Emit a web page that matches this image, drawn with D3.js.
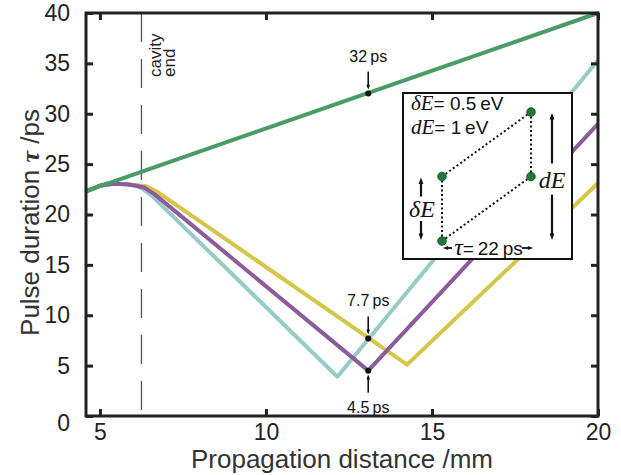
<!DOCTYPE html>
<html>
<head>
<meta charset="utf-8">
<script src="https://cdn.jsdelivr.net/npm/d3@7"></script>
<style>
  html, body { margin: 0; padding: 0; background: #fff; }
  svg { display: block; font-family: "Liberation Sans", Arial, sans-serif; }
</style>
</head>
<body>
<svg id="chart" width="621" height="475"></svg>
<script>
// datos
const xTicks = [5, 10, 15, 20];
const yTicks = [0, 5, 10, 15, 20, 25, 30, 35, 40];

const greenX = [4.58, 5.0, 5.25, 20];
const greenY = [22.3, 22.85, 23.1, 40];

const tealX = [4.58, 5.0, 5.4, 5.8, 6.1, 6.3, 6.55, 12.15, 20];
const tealY = [22.3, 22.85, 23.05, 23.0, 22.85, 22.5, 21.9, 3.9, 35.3];

const purpleX = [4.58, 5.0, 5.4, 5.8, 6.1, 6.35, 6.65, 13.08, 20];
const purpleY = [22.3, 22.85, 23.05, 23.0, 22.85, 22.65, 22.0, 4.5, 29.0];

const yellowX = [4.58, 5.0, 5.4, 5.8, 6.1, 6.4, 6.75, 14.25, 20];
const yellowY = [22.3, 22.85, 23.05, 23.0, 22.9, 22.8, 22.2, 5.1, 23.1];

const cavityEnd = 6.25;

const annX = [13.08, 13.08, 13.08];
const annY = [32, 7.7, 4.5];
const annLabels = ["32\u2009ps", "7.7\u2009ps", "4.5\u2009ps"];
const annBelow = [false, false, true];

// recuadro: tau en ps, energia en eV
const insetTau = [0, 0, 22, 22];
const insetE = [0, 0.5, 0.5, 1];

const svg = d3.select('#chart');

const x = d3.scaleLinear().domain([4.58, 20]).range([86, 598]);
const y = d3.scaleLinear().domain([0, 40]).range([416, 13]);

const axisColor = '#222';

// linea discontinua del final de la cavidad
svg.append('line')
  .attr('x1', x(cavityEnd)).attr('x2', x(cavityEnd))
  .attr('y1', y(40)).attr('y2', y(0))
  .attr('stroke', '#555').attr('stroke-width', 1.3)
  .attr('stroke-dasharray', '29,17');

svg.append('text')
  .attr('transform', `translate(${x(cavityEnd) + 20},77) rotate(-90)`)
  .attr('font-size', 17).attr('fill', '#222')
  .selectAll('tspan').data(['cavity', 'end']).enter().append('tspan')
  .attr('x', 0).attr('dy', (d, i) => i === 0 ? 0 : 14)
  .text(d => d);

const line = d3.line().x(d => x(d[0])).y(d => y(d[1]));

const series = [
  { xs: yellowX, ys: yellowY, color: '#d5c548' },
  { xs: tealX, ys: tealY, color: '#98cac7' },
  { xs: purpleX, ys: purpleY, color: '#8b5b9b' },
  { xs: greenX, ys: greenY, color: '#4a9c66' }
];

svg.selectAll('path.curve')
  .data(series).enter().append('path')
  .attr('class', 'curve')
  .attr('d', s => line(d3.zip(s.xs, s.ys)))
  .attr('fill', 'none')
  .attr('stroke', s => s.color)
  .attr('stroke-width', 4)
  .attr('stroke-linejoin', 'round');

// anotaciones
function arrowHead(g, px, py, dir, size) {
  // dir: 'up','down','left','right'
  const s = size || 4;
  let pts;
  if (dir === 'down') pts = [[px, py], [px - s * 0.6, py - s * 1.6], [px + s * 0.6, py - s * 1.6]];
  if (dir === 'up') pts = [[px, py], [px - s * 0.6, py + s * 1.6], [px + s * 0.6, py + s * 1.6]];
  if (dir === 'left') pts = [[px, py], [px + s * 1.6, py - s * 0.6], [px + s * 1.6, py + s * 0.6]];
  if (dir === 'right') pts = [[px, py], [px - s * 1.6, py - s * 0.6], [px - s * 1.6, py + s * 0.6]];
  g.append('polygon').attr('points', pts.map(p => p.join(',')).join(' ')).attr('fill', '#111');
}

const ann = svg.append('g');
annX.forEach((ax, i) => {
  const cx = x(ax), cy = y(annY[i]);
  const sgn = annBelow[i] ? 1 : -1;
  ann.append('line')
    .attr('x1', cx).attr('x2', cx)
    .attr('y1', cy + sgn * 22).attr('y2', cy + sgn * 6)
    .attr('stroke', '#111').attr('stroke-width', 1.6);
  arrowHead(ann, cx, cy + sgn * 4, annBelow[i] ? 'up' : 'down', 3);
  ann.append('circle').attr('cx', cx).attr('cy', cy).attr('r', 3).attr('fill', '#111');
  ann.append('text')
    .attr('x', cx).attr('y', annBelow[i] ? cy + 42 : cy - 32)
    .attr('text-anchor', 'middle').attr('font-size', 16).attr('fill', '#111')
    .text(annLabels[i]);
});

// recuadro interior
const inset = svg.append('g');
inset.append('rect')
  .attr('x', 403).attr('y', 93).attr('width', 169).attr('height', 166)
  .attr('fill', '#fff').attr('stroke', '#111').attr('stroke-width', 2);

const ix = d3.scaleLinear().domain([0, 22]).range([442, 531]);
const iy = d3.scaleLinear().domain([0, 1]).range([241, 112]);

const pts = d3.zip(insetTau, insetE);
const edges = [[0, 1], [1, 3], [3, 2], [2, 0]];
inset.selectAll('line.edge').data(edges).enter().append('line')
  .attr('x1', d => ix(pts[d[0]][0])).attr('y1', d => iy(pts[d[0]][1]))
  .attr('x2', d => ix(pts[d[1]][0])).attr('y2', d => iy(pts[d[1]][1]))
  .attr('stroke', '#111').attr('stroke-width', 2)
  .attr('stroke-dasharray', '2,2.5');

inset.selectAll('circle').data(pts).enter().append('circle')
  .attr('cx', d => ix(d[0])).attr('cy', d => iy(d[1]))
  .attr('r', 4.3).attr('fill', '#1f7a3a').attr('stroke', '#0d4a1f').attr('stroke-width', 0.8);

const mathFont = '"Liberation Serif", "DejaVu Serif", serif';

function eqText(px, py, sym, rest) {
  const t = inset.append('text').attr('x', px).attr('y', py).attr('fill', '#111');
  t.append('tspan').attr('font-family', mathFont).attr('font-style', 'italic').attr('font-size', 21).text(sym);
  t.append('tspan').attr('font-size', 19).text('= ' + rest);
}
eqText(411, 110, 'δE', '0.5\u2009eV');
eqText(411, 134, 'dE', '1\u2009eV');

// flecha dE
const dEx = ix(22) + 21;
inset.append('line').attr('x1', dEx).attr('x2', dEx).attr('y1', iy(1) + 6).attr('y2', iy(0.5) - 13)
  .attr('stroke', '#111').attr('stroke-width', 2.2);
inset.append('line').attr('x1', dEx).attr('x2', dEx).attr('y1', iy(0.5) + 18).attr('y2', iy(0) - 6)
  .attr('stroke', '#111').attr('stroke-width', 2.2);
arrowHead(inset, dEx, iy(1) + 1, 'up', 4);
arrowHead(inset, dEx, iy(0) - 1, 'down', 4);
inset.append('text').attr('x', dEx).attr('y', iy(0.5) + 11)
  .attr('text-anchor', 'middle').attr('font-family', mathFont).attr('font-style', 'italic')
  .attr('font-size', 24).attr('fill', '#111').text('dE');

// flecha deltaE
const sEx = ix(0) - 21;
inset.append('line').attr('x1', sEx).attr('x2', sEx).attr('y1', iy(0.5) + 6).attr('y2', iy(0.5) + 20)
  .attr('stroke', '#111').attr('stroke-width', 2.2);
inset.append('line').attr('x1', sEx).attr('x2', sEx).attr('y1', iy(0) - 20).attr('y2', iy(0) - 6)
  .attr('stroke', '#111').attr('stroke-width', 2.2);
arrowHead(inset, sEx, iy(0.5) + 1, 'up', 4);
arrowHead(inset, sEx, iy(0) - 1, 'down', 4);
inset.append('text').attr('x', sEx + 1).attr('y', iy(0.25) + 8)
  .attr('text-anchor', 'middle').attr('font-family', mathFont).attr('font-style', 'italic')
  .attr('font-size', 24).attr('fill', '#111').text('δE');

// flecha tau
const tauY = iy(0) + 7;
inset.append('line').attr('x1', ix(0) + 4).attr('x2', ix(0) + 10).attr('y1', tauY).attr('y2', tauY)
  .attr('stroke', '#111').attr('stroke-width', 1.8);
inset.append('line').attr('x1', ix(22) - 9).attr('x2', ix(22) - 1).attr('y1', tauY).attr('y2', tauY)
  .attr('stroke', '#111').attr('stroke-width', 1.8);
arrowHead(inset, ix(0) + 1, tauY, 'left', 3.2);
arrowHead(inset, ix(22) + 2, tauY, 'right', 3.2);
const tauText = inset.append('text').attr('x', (ix(0) + ix(22)) / 2 + 2).attr('y', tauY + 7)
  .attr('text-anchor', 'middle').attr('fill', '#111');
tauText.append('tspan').attr('font-family', mathFont).attr('font-style', 'italic').attr('font-size', 24).text('τ');
tauText.append('tspan').attr('font-size', 19).text('=\u200922\u2009ps');

// ejes y marco
const frame = svg.append('g');
frame.append('rect')
  .attr('x', x(4.58)).attr('y', y(40))
  .attr('width', x(20) - x(4.58)).attr('height', y(0) - y(40))
  .attr('fill', 'none').attr('stroke', axisColor).attr('stroke-width', 3);

frame.append('g').attr('transform', `translate(0,${y(0)})`)
  .call(d3.axisBottom(x).tickValues(xTicks).tickSizeInner(-7).tickSizeOuter(0).tickPadding(8))
  .call(g => g.select('.domain').remove());
frame.append('g').attr('transform', `translate(0,${y(40)})`)
  .call(d3.axisTop(x).tickValues(xTicks).tickSizeInner(-7).tickSizeOuter(0).tickFormat(''))
  .call(g => g.select('.domain').remove());
const yAxisG = frame.append('g').attr('transform', `translate(${x(4.58)},0)`)
  .call(d3.axisLeft(y).tickValues(yTicks).tickSizeInner(-7).tickSizeOuter(0).tickPadding(16))
  .call(g => g.select('.domain').remove());
frame.append('g').attr('transform', `translate(${x(20)},0)`)
  .call(d3.axisRight(y).tickValues(yTicks).tickSizeInner(-7).tickSizeOuter(0).tickFormat(''))
  .call(g => g.select('.domain').remove());

frame.selectAll('.tick line').attr('stroke', axisColor).attr('stroke-width', 3);
frame.selectAll('.tick text')
  .attr('font-family', '"Liberation Sans", Arial, sans-serif')
  .attr('font-size', 23).attr('fill', '#222');
// el 0 va algo mas abajo en la figura original
yAxisG.selectAll('.tick text').filter(d => d === 0).attr('dy', '0.62em');

// titulos
svg.append('text')
  .attr('x', (x(4.58) + x(20)) / 2).attr('y', 468)
  .attr('text-anchor', 'middle').attr('font-size', 26).attr('fill', '#333')
  .text('Propagation distance /mm');

const yTitle = svg.append('text')
  .attr('transform', `translate(39,${(y(0) + y(40)) / 2 + 8}) rotate(-90)`)
  .attr('text-anchor', 'middle').attr('font-size', 26).attr('fill', '#333');
yTitle.append('tspan').text('Pulse duration ');
yTitle.append('tspan').attr('font-family', mathFont).attr('font-weight', 'bold').attr('font-style', 'italic').text('τ');
yTitle.append('tspan').text(' /ps');
</script>
</body>
</html>
